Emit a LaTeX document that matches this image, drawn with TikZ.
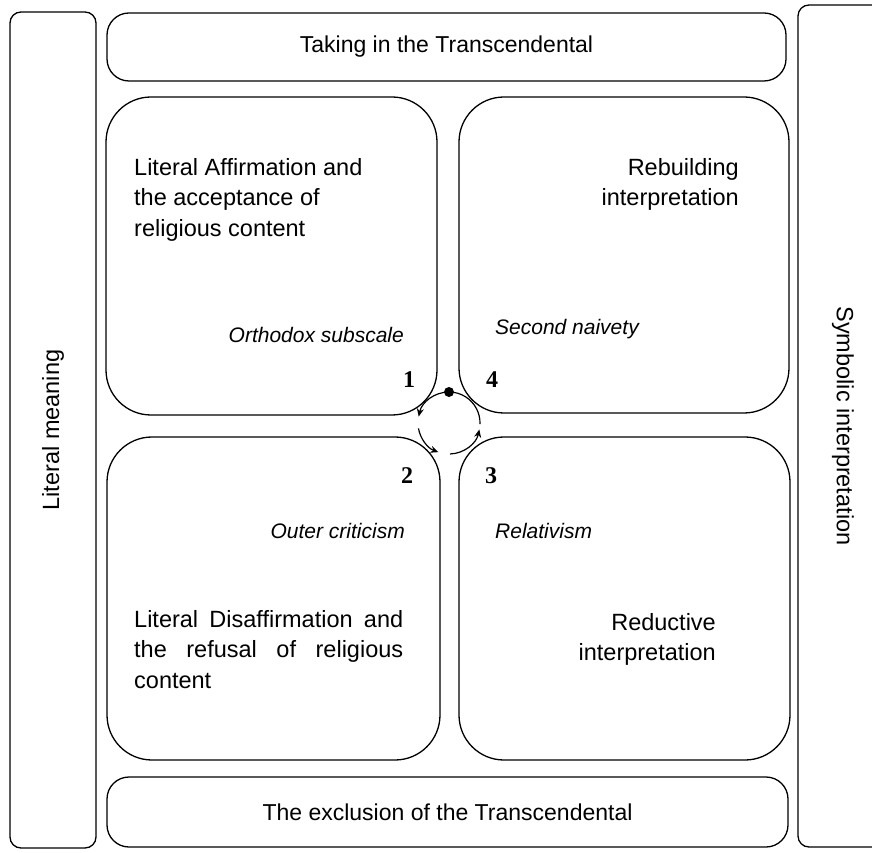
\documentclass[tikz,border=0pt]{standalone}
\usepackage{fontspec}
\setmainfont{Liberation Sans}
\newfontfamily\numfont{Liberation Serif}
\usetikzlibrary{arrows.meta, calc}

\begin{document}
\begin{tikzpicture}[x=1pt, y=1pt,
    side/.style={rectangle, rounded corners=11pt, draw, line width=1.3pt, inner sep=0pt},
    band/.style={rectangle, rounded corners=22pt, draw, line width=1.3pt, inner sep=0pt,
                 font=\fontsize{23}{30}\selectfont},
    quad/.style={rectangle, rounded corners=45pt, draw, line width=1.3pt, inner sep=0pt},
    txt/.style={inner sep=0pt, font=\fontsize{23.5}{30.5}\selectfont},
    note/.style={inner sep=0pt, font=\itshape\fontsize{21}{25}\selectfont},
    num/.style={inner sep=0pt, font=\numfont\bfseries\fontsize{24}{28}\selectfont},
    cycarrow/.style={line width=1.2pt, -{Stealth[length=8pt, width=7pt]}}]

    \useasboundingbox (0,0) rectangle (872,852);
    \clip (0,0) rectangle (872,852);

    % Side columns
    \node[side, minimum width=86pt, minimum height=836pt] (lit) at (53,422) {};
    \node[side, minimum width=92pt, minimum height=842pt] (sym) at (844,426) {};
    \node[txt, rotate=90] at (lit) {Literal meaning};
    \node[txt, rotate=-90] at (843,426) {Symbolic interpretation};

    % Top and bottom bands
    \node[band, minimum width=679pt, minimum height=68pt] (take) at (446.5,805) {Taking in the Transcendental};
    \node[band, minimum width=681pt, minimum height=70pt] (excl) at (447.5,40) {The exclusion of the Transcendental};

    % Quadrants
    \node[quad, minimum width=331pt, minimum height=318pt] (q1) at (271.5,596) {};
    \node[quad, minimum width=330pt, minimum height=316pt] (q4) at (624,597) {};
    \node[quad, minimum width=333pt, minimum height=323pt] (q2) at (273.5,253.5) {};
    \node[quad, minimum width=331pt, minimum height=323pt] (q3) at (624.5,253.5) {};

    % Quadrant texts
    \node[txt, anchor=north west, align=left] (q1txt) at (134,694) {Literal Affirmation and\\the acceptance of\\religious content};
    \node[txt, anchor=north east, align=right] (q4txt) at (739,694) {Rebuilding\\interpretation};
    \node[txt, anchor=north west, text width=269pt, align=justify] (q2txt) at (134,242)
        {Literal Disaffirmation and\linebreak the refusal of religious\linebreak content};
    \node[txt, anchor=north east, align=right] (q3txt) at (716,239) {Reductive\\interpretation};

    % Subscales
    \node[note, anchor=base east] (orth) at (404,509) {Orthodox subscale};
    \node[note, anchor=base west] (naive) at (495,517) {Second naivety};
    \node[note, anchor=base east] (outer) at (405,314) {Outer criticism};
    \node[note, anchor=base west] (relat) at (495,314) {Relativism};

    % Numbers
    \node[num] (n1) at (409,472) {1};
    \node[num] (n4) at (492,472) {4};
    \node[num] (n2) at (407,376) {2};
    \node[num] (n3) at (491,376) {3};

    % Cycle
    \coordinate (cyc) at (449,429);
    \foreach \a/\b in {90/168, 190/250, 272/348}
        \draw[cycarrow] ($(cyc)+(\a:31)$) arc[start angle=\a, end angle=\b, radius=31];
    \draw[line width=1.2pt] ($(cyc)+(358:31)$) arc[start angle=358, end angle=450, radius=31];
    \fill ($(cyc)+(90:31)$) circle[radius=5];
\end{tikzpicture}
\end{document}
